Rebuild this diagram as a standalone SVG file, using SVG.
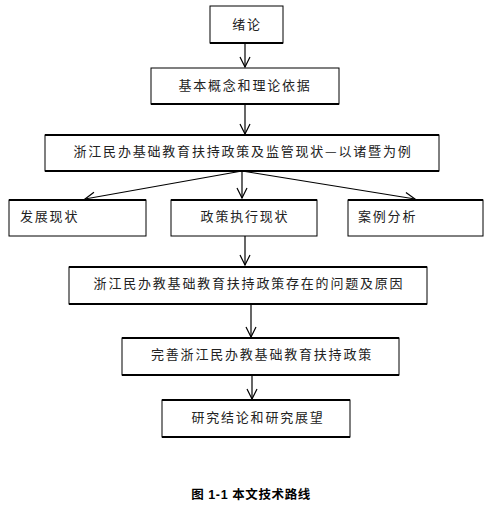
<svg xmlns="http://www.w3.org/2000/svg" width="499" height="511" viewBox="0 0 499 511">
<style>
.box{fill:#fff;stroke:#000;stroke-width:1}
.edge{stroke:#000;stroke-width:2}
.t{font-family:"Noto Sans CJK SC","Liberation Sans",sans-serif;font-size:13px;fill:#222;letter-spacing:1.8px}
.c{text-anchor:middle}
.cap{font-family:"Liberation Sans","Noto Sans CJK SC",sans-serif;font-size:12.5px;fill:#000;font-weight:bold;text-anchor:middle;white-space:pre;letter-spacing:0.6px}
.con{stroke:#000;stroke-width:1.2;fill:none}
</style>
<defs>
<marker id="ah" viewBox="0 0 12 12" refX="11" refY="6" markerWidth="12" markerHeight="12" markerUnits="userSpaceOnUse" orient="auto">
<path d="M1,1 L11,6 L1,11" fill="none" stroke="#000" stroke-width="1.2"/>
</marker>
</defs>
<g id="connectors">
<line class="con" x1="245" y1="43" x2="245" y2="67" marker-end="url(#ah)"/>
<line class="con" x1="245" y1="104" x2="245" y2="134" marker-end="url(#ah)"/>
<line class="con" x1="242" y1="171" x2="85" y2="199" marker-end="url(#ah)"/>
<line class="con" x1="242" y1="171" x2="242" y2="198" marker-end="url(#ah)"/>
<line class="con" x1="242" y1="171" x2="415" y2="199" marker-end="url(#ah)"/>
<line class="con" x1="245" y1="236" x2="245" y2="265" marker-end="url(#ah)"/>
<line class="con" x1="251" y1="304" x2="251" y2="337" marker-end="url(#ah)"/>
<line class="con" x1="252" y1="375" x2="252" y2="399" marker-end="url(#ah)"/>
</g>
<g id="n1">
<rect class="box" x="210" y="6" width="73" height="37"/>
<line class="edge" x1="210" y1="43" x2="283" y2="43"/>
<text class="t c" x="247" y="29">绪论</text>
</g>
<g id="n2">
<rect class="box" x="151" y="68" width="188" height="36"/>
<line class="edge" x1="151" y1="104" x2="339" y2="104"/>
<text class="t c" x="245" y="90">基本概念和理论依据</text>
</g>
<g id="n3">
<rect class="box" x="45" y="135" width="394" height="36"/>
<line class="edge" x1="45" y1="135" x2="439" y2="135"/>
<line class="edge" x1="45" y1="171" x2="439" y2="171"/>
<text class="t c" x="243" y="156">浙江民办基础教育扶持政策及监管现状—以诸暨为例</text>
</g>
<g id="n4">
<rect class="box" x="9" y="200" width="137" height="36"/>
<line class="edge" x1="9" y1="200" x2="146" y2="200"/>
<text class="t" x="20" y="221">发展现状</text>
</g>
<g id="n5">
<rect class="box" x="171" y="200" width="146" height="36"/>
<line class="edge" x1="171" y1="200" x2="317" y2="200"/>
<text class="t c" x="245" y="221">政策执行现状</text>
</g>
<g id="n6">
<rect class="box" x="348" y="200" width="135" height="36"/>
<line class="edge" x1="348" y1="200" x2="483" y2="200"/>
<text class="t" x="358" y="221">案例分析</text>
</g>
<g id="n7">
<rect class="box" x="69" y="267" width="358" height="37"/>
<line class="edge" x1="69" y1="267" x2="427" y2="267"/>
<line class="edge" x1="69" y1="304" x2="427" y2="304"/>
<text class="t c" x="249" y="288">浙江民办教基础教育扶持政策存在的问题及原因</text>
</g>
<g id="n8">
<rect class="box" x="122" y="338" width="277" height="37"/>
<line class="edge" x1="122" y1="338" x2="399" y2="338"/>
<line class="edge" x1="122" y1="375" x2="399" y2="375"/>
<text class="t c" x="262" y="359">完善浙江民办教基础教育扶持政策</text>
</g>
<g id="n9">
<rect class="box" x="162" y="400" width="188" height="37"/>
<line class="edge" x1="162" y1="400" x2="350" y2="400"/>
<line class="edge" x1="162" y1="437" x2="350" y2="437"/>
<text class="t c" x="258" y="422">研究结论和研究展望</text>
</g>
<text class="cap" x="251" y="499" xml:space="preserve">图 1-1 本文技术路线</text>
</svg>
